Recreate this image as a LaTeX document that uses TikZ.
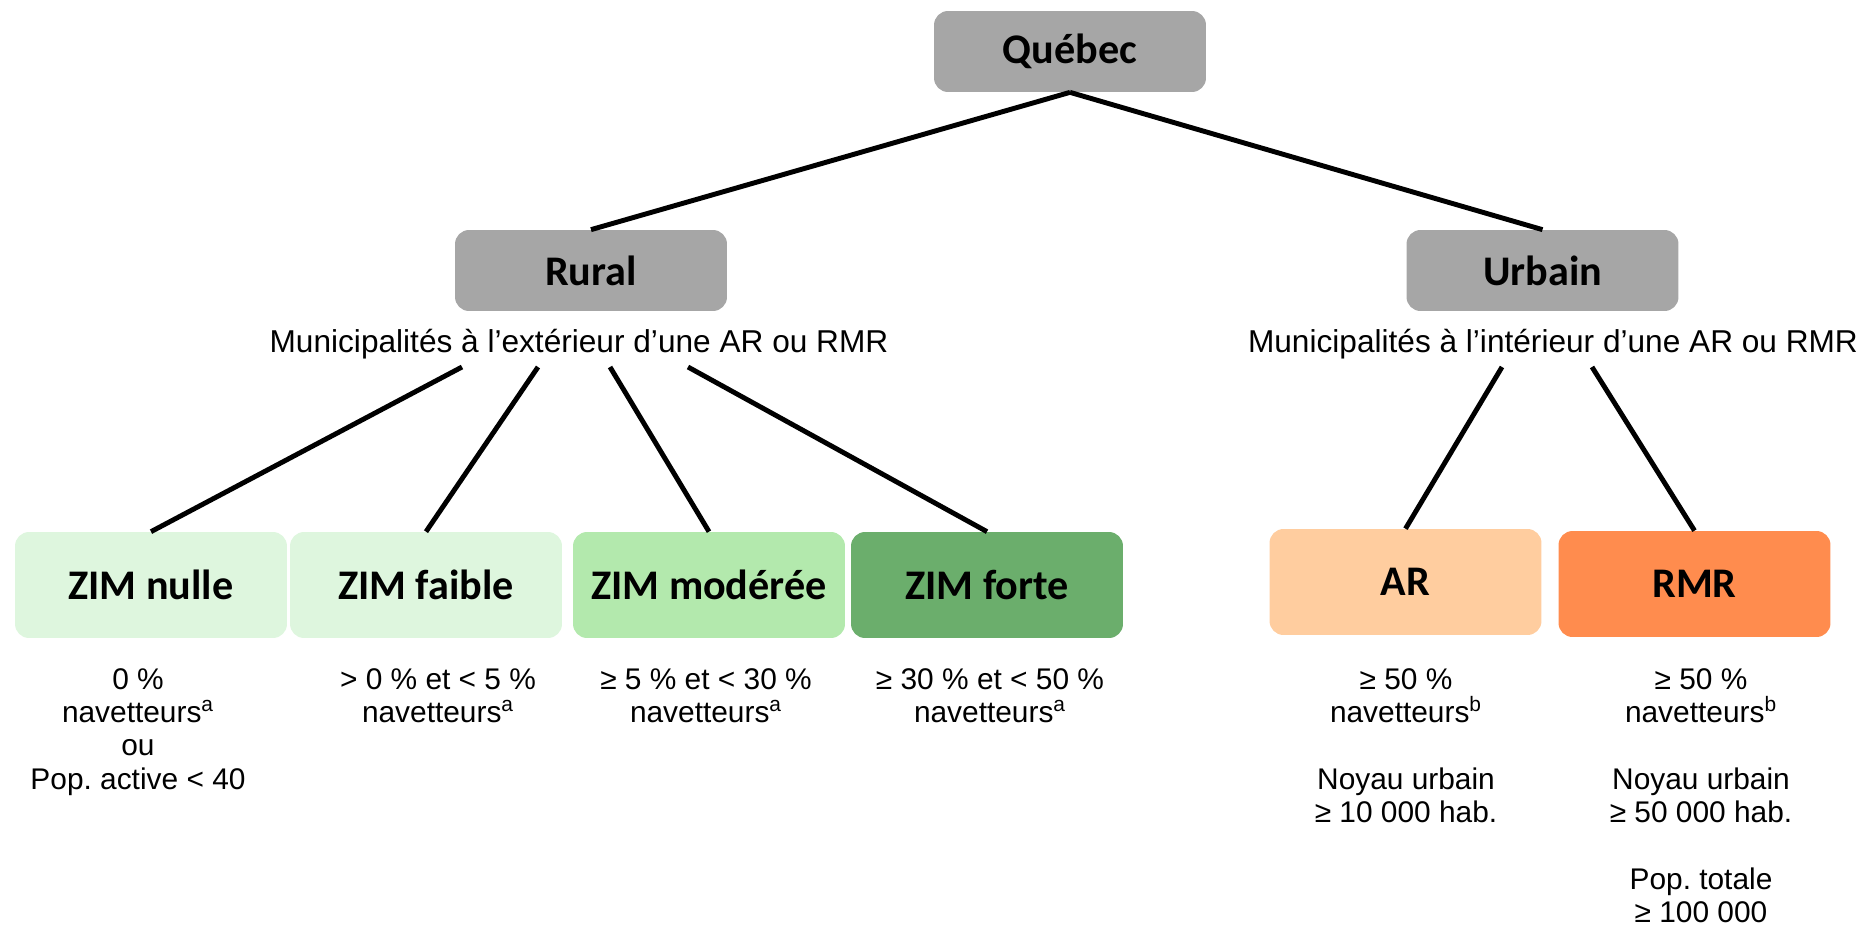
\documentclass[tikz,border=0pt]{standalone}
\usepackage{fontspec}
\setmainfont{Liberation Sans}
\newfontfamily\boxfont{Carlito}
\usetikzlibrary{positioning}
\frenchspacing

\definecolor{boxgray}{HTML}{A6A6A6}
\definecolor{zimpale}{HTML}{DEF6DE}
\definecolor{zimlight}{HTML}{B3E9AD}
\definecolor{zimdark}{HTML}{6BAE6C}
\definecolor{arpeach}{HTML}{FFCD9F}
\definecolor{rmrorange}{HTML}{FF8C4E}

\begin{document}
\begin{tikzpicture}[x=0.02cm, y=-0.02cm,
    box/.style={rounded corners=0.28cm, minimum width=5.44cm, minimum height=1.62cm, inner sep=0pt, font=\boxfont\bfseries\fontsize{24}{28}\selectfont},
    zimbox/.style={box, minimum height=2.12cm},
    info/.style={font=\fontsize{18}{21}\selectfont, anchor=base, inner sep=0pt},
    crit/.style={font=\fontsize{17}{19}\selectfont, align=center, anchor=north, inner sep=0pt},
    link/.style={line width=2.8pt}]
        \useasboundingbox (0,0) rectangle (1866,930);

        % Top levels
        \node[box, fill=boxgray] (quebec) at (1070,51.5) {Québec};
        \node[box, fill=boxgray] (rural) at (591,270.5) {Rural};
        \node[box, fill=boxgray] (urbain) at (1542.5,270.5) {Urbain};
        \node[info] (rurtxt) at (579,352) {Municipalités à l’extérieur d’une AR ou RMR};
        \node[info] (urbtxt) at (1553,352) {Municipalités à l’intérieur d’une AR ou RMR};

        % Rural classes (ZIM)
        \node[zimbox, fill=zimpale] (zimnulle) at (151,585) {ZIM nulle};
        \node[zimbox, fill=zimpale] (zimfaible) at (426,585) {ZIM faible};
        \node[zimbox, fill=zimlight] (zimmod) at (709,585) {ZIM modérée};
        \node[zimbox, fill=zimdark] (zimforte) at (987,585) {ZIM forte};

        % Urban classes
        \node[zimbox, fill=arpeach] (ar) at (1405.5,582) {AR};
        \node[zimbox, fill=rmrorange] (rmr) at (1694.5,584) {RMR};

        % Criteria
        \node[crit] (nulletxt) at (138,668) {0 \%\\navetteurs\textsuperscript{a}\\ou\\Pop. active < 40};
        \node[crit] (faibletxt) at (438,668) {> 0 \% et < 5 \%\\navetteurs\textsuperscript{a}};
        \node[crit] (modtxt) at (706,668) {≥ 5 \% et < 30 \%\\navetteurs\textsuperscript{a}};
        \node[crit] (fortetxt) at (990,668) {≥ 30 \% et < 50 \%\\navetteurs\textsuperscript{a}};
        \node[crit] (artxt) at (1406,668) {≥ 50 \%\\navetteurs\textsuperscript{b}\\[19pt]Noyau urbain\\≥ 10~000 hab.};
        \node[crit] (rmrtxt) at (1701,668) {≥ 50 \%\\navetteurs\textsuperscript{b}\\[19pt]Noyau urbain\\≥ 50~000 hab.\\[19pt]Pop. totale\\≥ 100~000};

        % Connectors
        \coordinate (r1) at (462,367);
        \coordinate (r2) at (538,367);
        \coordinate (r3) at (610,367);
        \coordinate (r4) at (688,367);
        \coordinate (u1) at (1502,367);
        \coordinate (u2) at (1592,367);
        \draw[link] (quebec.south) -- (rural.north);
        \draw[link] (quebec.south) -- (urbain.north);
        \draw[link] (r1) -- (zimnulle.north);
        \draw[link] (r2) -- (zimfaible.north);
        \draw[link] (r3) -- (zimmod.north);
        \draw[link] (r4) -- (zimforte.north);
        \draw[link] (u1) -- (ar.north);
        \draw[link] (u2) -- (rmr.north);
\end{tikzpicture}
\end{document}
